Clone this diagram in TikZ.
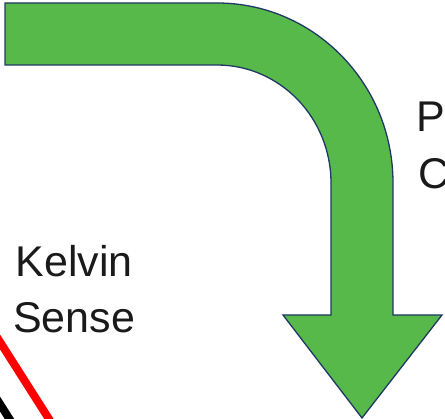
\documentclass[tikz,border=0pt]{standalone}
\usepackage{fontspec}
\setmainfont{Liberation Sans}
\definecolor{arrowgreen}{RGB}{87,185,74}
\definecolor{arrowedge}{RGB}{31,56,100}
\definecolor{labelink}{RGB}{26,26,26}
\begin{document}
\begin{tikzpicture}[x=1pt,y=1pt,
  bentarrow/.style={fill=arrowgreen,draw=arrowedge,line width=1.3pt,line join=miter},
  lbl/.style={inner sep=0pt,text=labelink,font=\fontsize{43}{56}\selectfont},
  wire/.style={line width=8pt}]
\useasboundingbox (0,0) rectangle (445,419);
\begin{scope}
\clip (0,0) rectangle (445,419);
% bent arrow: horizontal shaft, quarter turn, downward head
\path[bentarrow] (5,416) -- (217,416)
  arc[start angle=90,end angle=0,x radius=176pt,y radius=180pt]
  -- (393,104) -- (442,104) -- (362,1) -- (283,104) -- (331,104) -- (331,236)
  arc[start angle=0,end angle=90,x radius=114pt,y radius=118pt]
  -- (5,354) -- cycle;
% labels
\node[lbl,anchor=base] (kelvin) at (74,142) {Kelvin};
\node[lbl,anchor=base] (sense) at (74,86) {Sense};
\node[lbl,anchor=base west] (po) at (416,287) {Po};
\node[lbl,anchor=base west] (cur) at (418,230) {C};
% sense wires
\coordinate (r1) at (-5,84.9);
\coordinate (r2) at (54,-7.9);
\coordinate (b1) at (-6,24.4);
\coordinate (b2) at (14.5,-7.9);
\draw[wire,red] (r1) -- (r2);
\draw[wire,black] (b1) -- (b2);
\end{scope}
\end{tikzpicture}
\end{document}
